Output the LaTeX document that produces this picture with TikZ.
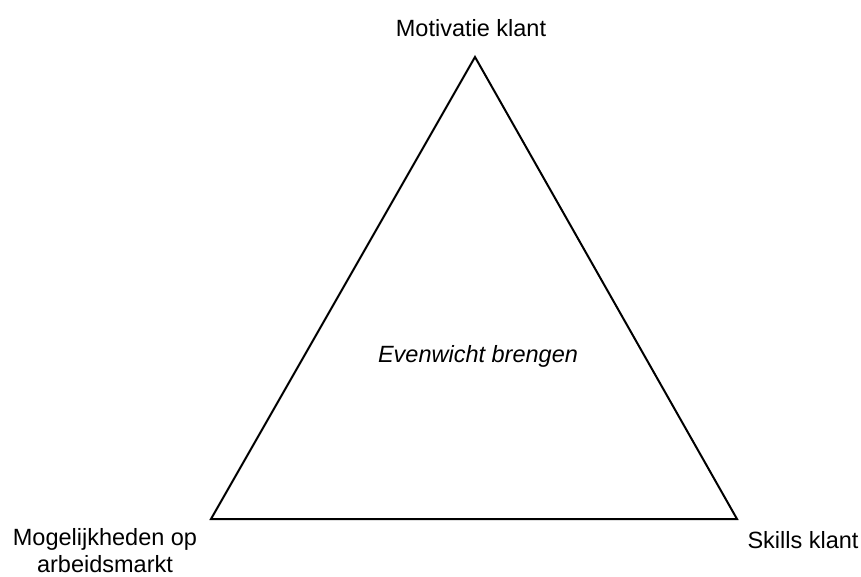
\documentclass[tikz,border=0pt]{standalone}
\usepackage{fontspec}
\setmainfont{Liberation Sans}
\usetikzlibrary{positioning}

\begin{document}
\begin{tikzpicture}[x=1pt, y=-1pt,
				labelnode/.style={align=center, font=\fontsize{23.5}{27}\selectfont, inner sep=0pt},
				]
				\useasboundingbox (0,0) rectangle (861,577);

				% Corners
				\coordinate (top) at (475,57);
				\coordinate (left) at (211,519);
				\coordinate (right) at (737,519);

				% Triangle
				\draw[line width=2pt, line join=miter] (top) -- (right) -- (left) -- cycle;

				% Labels
				\node[labelnode] (motivatie) at (471,28) {Motivatie klant};
				\node[labelnode] (mogelijk) at (105,551) {Mogelijkheden op\\arbeidsmarkt};
				\node[labelnode] (skills) at (803,540) {Skills klant};
				\node[labelnode, font=\fontsize{23.5}{27}\selectfont\itshape] (evenwicht) at (478,356) {Evenwicht brengen};
			\end{tikzpicture}
\end{document}
